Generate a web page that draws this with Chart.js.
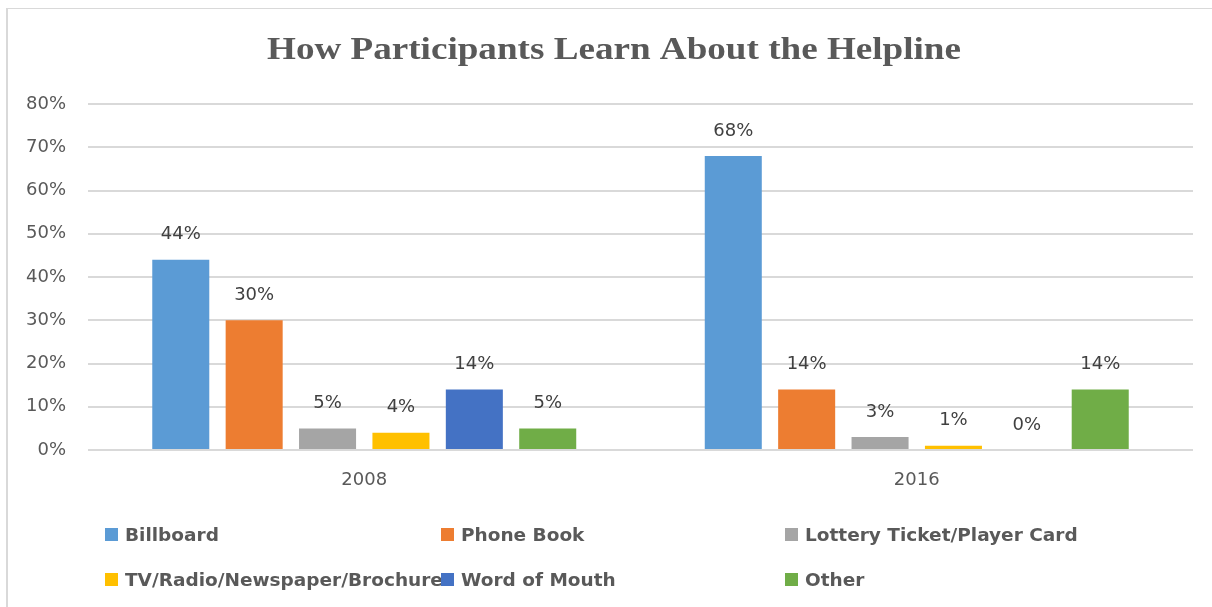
<!DOCTYPE html>
<html>
<head>
<meta charset="utf-8">
<script src="https://cdn.jsdelivr.net/npm/chart.js@4.4.1/dist/chart.umd.min.js"></script>
<style>
    html, body { margin: 0; padding: 0; background: #fff; overflow: hidden; }
    #wrap { position: relative; width: 1212px; height: 607px; overflow: hidden; }
    #frame { position: absolute; left: 6px; top: 8px; right: 0; bottom: 0;
             border-left: 2px solid #d9d9d9; border-top: 1px solid #d9d9d9; }
    #chart { position: absolute; left: 0; top: 0; }
    #legend { position: absolute; left: 105px; top: 522px; display: grid;
              grid-template-columns: 336px 344px 320px; row-gap: 21px;
              font-family: "DejaVu Sans", sans-serif; font-weight: bold; font-size: 18.5px; color: #595959; }
    #legend .item { display: flex; align-items: center; height: 24px; white-space: nowrap; }
    #legend .box { width: 13px; height: 13px; margin-right: 7px; flex: none; }
</style>
</head>
<body>
<div id="wrap">
    <div id="frame"></div>
    <canvas id="chart" width="1212" height="607"></canvas>
    <div id="legend"></div>
</div>
<script>
// --- data ---
const years = ['2008', '2016'];
const sources = ['Billboard', 'Phone Book', 'Lottery Ticket/Player Card',
                 'TV/Radio/Newspaper/Brochure', 'Word of Mouth', 'Other'];
const billboard = [44, 68];
const phoneBook = [30, 14];
const lottery = [5, 3];
const tvRadio = [4, 1];
const wordOfMouth = [14, 0];
const other = [5, 14];
const yTicks = [0, 10, 20, 30, 40, 50, 60, 70, 80];

const colors = ['#5b9bd5', '#ed7d31', '#a5a5a5', '#ffc000', '#4472c4', '#70ad47'];
const series = [billboard, phoneBook, lottery, tvRadio, wordOfMouth, other];

const bodyFont = '"DejaVu Sans", sans-serif';

// title drawn by hand: centred on the outer frame and a little wide, like the original
const titlePlugin = {
    id: 'frameTitle',
    afterDraw(chart) {
        const ctx = chart.ctx;
        ctx.save();
        ctx.font = 'bold 32px "Liberation Serif", "Times New Roman", serif';
        ctx.fillStyle = '#595959';
        ctx.textAlign = 'center';
        ctx.textBaseline = 'middle';
        ctx.translate(614, 51);
        ctx.scale(1.16, 1);
        ctx.fillText('How Participants Learn About the Helpline', 0, 0);
        ctx.restore();
    }
};

// value labels above each bar
const labelPlugin = {
    id: 'barLabels',
    afterDatasetsDraw(chart) {
        const ctx = chart.ctx;
        ctx.save();
        ctx.font = '18px ' + bodyFont;
        ctx.fillStyle = '#404040';
        ctx.textAlign = 'center';
        ctx.textBaseline = 'middle';
        chart.data.datasets.forEach((ds, i) => {
            chart.getDatasetMeta(i).data.forEach((bar, j) => {
                ctx.fillText(ds.data[j] + '%', bar.x, bar.y - 25);
            });
        });
        ctx.restore();
    }
};

const chart = new Chart(document.getElementById('chart'), {
    type: 'bar',
    data: {
        labels: years,
        datasets: sources.map((name, i) => ({
            label: name,
            data: series[i],
            backgroundColor: colors[i],
            categoryPercentage: 0.797,
            barPercentage: 0.777
        }))
    },
    options: {
        responsive: false,
        animation: false,
        layout: { padding: { left: 8, right: 19, top: 104, bottom: 0 } },
        plugins: {
            legend: { display: false },
            title: { display: false },
            tooltip: { enabled: false }
        },
        scales: {
            x: {
                grid: { display: false, drawTicks: false },
                border: { display: false },
                ticks: { color: '#595959', font: { family: bodyFont, size: 18 }, padding: 20 },
                afterFit(scale) { scale.height = 157; }
            },
            y: {
                min: 0,
                max: 80,
                afterBuildTicks(scale) { scale.ticks = yTicks.map(v => ({ value: v })); },
                grid: { color: '#d9d9d9', lineWidth: 2, drawTicks: false },
                border: { display: false },
                ticks: {
                    color: '#595959',
                    font: { family: bodyFont, size: 18 },
                    padding: 22,
                    callback: v => v + '%'
                },
                afterFit(scale) { scale.width = 80; }
            }
        }
    },
    plugins: [titlePlugin, labelPlugin]
});

// html legend in the three-column layout of the original
const legend = document.getElementById('legend');
sources.forEach((name, i) => {
    const item = document.createElement('div');
    item.className = 'item';
    item.innerHTML = '<span class="box" style="background:' + colors[i] + '"></span>' + name;
    legend.appendChild(item);
});
</script>
</body>
</html>
